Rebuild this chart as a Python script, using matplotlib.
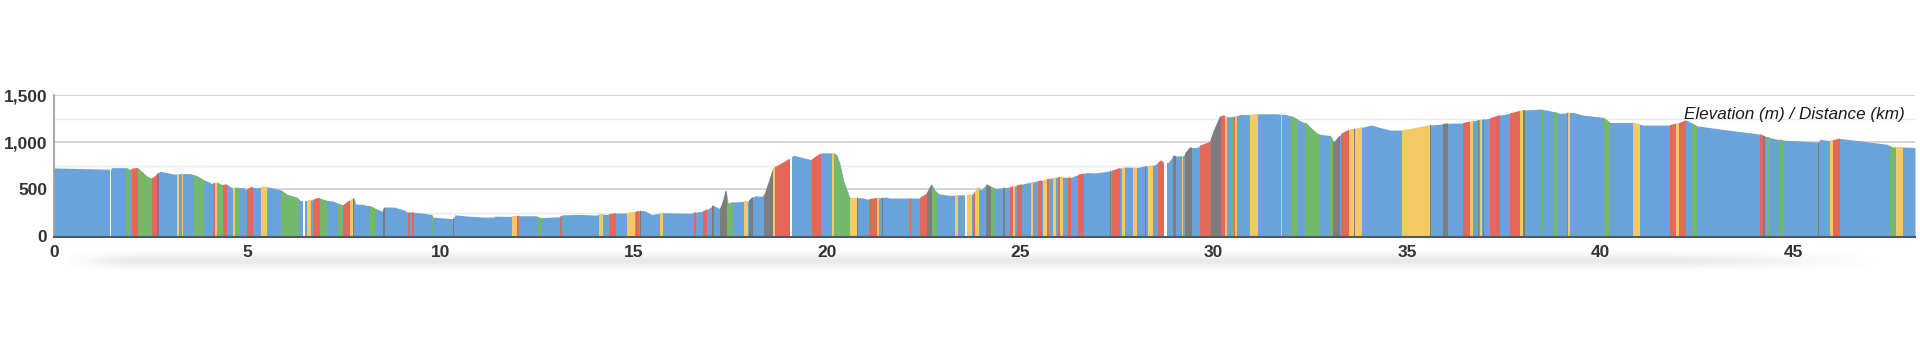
import numpy as np
import matplotlib
matplotlib.use("Agg")
import matplotlib.pyplot as plt
from matplotlib.ticker import MultipleLocator, FuncFormatter

# ---------------- data ----------------
dist_km = [0.0, 1.46, 1.5, 1.84, 1.95, 2.05, 2.16, 2.3, 2.4, 2.52, 2.62, 2.74, 2.9, 3.05, 3.17, 3.3,
           3.55, 3.7, 3.86, 3.95, 4.1, 4.2, 4.35, 4.47, 4.6, 4.9, 4.98, 5.1, 5.25, 5.42, 5.6, 5.85,
           6.05, 6.3, 6.36, 6.55, 6.7, 6.84, 7.0, 7.23, 7.35, 7.48, 7.6, 7.76, 7.8, 7.98, 8.17,
           8.3, 8.48, 8.56, 8.8, 9.04, 9.17, 9.2, 9.5, 9.77, 9.8, 10.33, 10.37, 10.7, 11.1, 11.37,
           11.41, 11.8, 12.0, 12.48, 12.55, 13.09, 13.16, 13.6, 14.03, 14.1, 14.3, 14.55, 14.8,
           15.07, 15.2, 15.3, 15.46, 15.76, 16.45, 16.62, 16.8, 16.93, 17.05, 17.23, 17.3, 17.38,
           17.44, 17.56, 17.83, 17.96, 18.05, 18.14, 18.3, 18.39, 18.61, 18.7, 19.04, 19.12, 19.3,
           19.47, 19.6, 19.7, 19.86, 20.16, 20.25, 20.33, 20.42, 20.59, 20.76, 20.9, 21.06, 21.28,
           21.54, 21.6, 22.4, 22.57, 22.7, 22.79, 22.88, 23.17, 23.78, 23.91, 23.96, 24.0, 24.13,
           24.25, 24.38, 24.73, 24.9, 25.16, 25.4, 25.59, 25.8, 26.02, 26.3, 26.45, 26.71, 26.95,
           27.23, 27.4, 27.58, 27.75, 28.0, 28.18, 28.45, 28.65, 28.69, 28.82, 28.95, 29.21, 29.38,
           29.55, 29.68, 29.9, 29.99, 30.16, 30.25, 30.33, 30.55, 30.68, 30.95, 31.19, 31.63, 31.88,
           32.05, 32.23, 32.4, 32.53, 32.7, 33.0, 33.05, 33.11, 33.18, 33.31, 33.52, 33.78, 34.08,
           34.3, 34.56, 34.9, 35.16, 35.59, 35.85, 36.11, 36.45, 36.8, 37.14, 37.4, 37.66, 38.01,
           38.44, 38.7, 38.95, 39.3, 39.55, 40.08, 40.25, 40.85, 41.11, 41.8, 42.06, 42.23, 42.49,
           43.0, 43.44, 44.13, 44.3, 44.56, 44.73, 45.51, 45.64, 45.68, 45.94, 46.2, 46.55, 46.89,
           47.41, 47.58, 47.75, 48.14]
elev_m = [727, 713, 730, 730, 713, 720, 727, 680, 638, 613, 640, 691, 680, 665, 660, 667,
          665, 640, 603, 589, 560, 575, 545, 553, 518, 518, 496, 525, 515, 530, 520, 496,
          440, 411, 383, 380, 390, 411, 385, 376, 350, 330, 370, 408, 345, 340, 325,
          300, 270, 312, 312, 284, 250, 259, 250, 234, 206, 188, 230, 216, 206, 206,
          216, 213, 220, 220, 199, 209, 230, 234, 227, 238, 234, 248, 248,
          266, 277, 270, 234, 252, 246, 259, 270, 294, 330, 294, 365, 496,
          348, 365, 372, 375, 411, 433, 425, 454, 730, 745, 826, 862, 844,
          826, 816, 844, 887, 887, 862, 773, 596, 408, 411, 411, 394, 408,
          418, 408, 408, 454, 553, 489, 454, 436, 447, 525, 496, 503, 553,
          525, 507, 525, 540, 567, 585, 596, 621, 631, 625, 649, 677, 674,
          691, 702, 727, 737, 730, 745, 755, 808, 784, 784, 855, 855, 943,
          943, 968, 1003, 1110, 1270, 1284, 1270, 1270, 1294, 1291, 1301, 1301, 1291,
          1270, 1227, 1199, 1145, 1085, 1071, 1050, 993, 1032, 1092, 1135, 1152, 1181,
          1156, 1128, 1128, 1145, 1181, 1190, 1202, 1202, 1234, 1252, 1287, 1305, 1340,
          1351, 1333, 1305, 1316, 1287, 1262, 1209, 1209, 1181, 1181, 1205, 1234, 1174,
          1145, 1121, 1085, 1057, 1032, 1022, 1004, 997, 1032, 1014, 1039, 1022, 1004,
          979, 943, 950, 943]

# gradient bands: start km, end km, class
band_start = [1.46, 1.86, 2.03, 2.18, 2.53, 2.67, 3.17, 3.30, 3.62, 4.12, 4.16, 4.21, 4.38, 4.62, 4.68,
              4.98, 5.35, 5.86, 6.45, 6.55, 6.71, 6.88, 7.35, 7.47, 7.66, 7.73,
              8.17, 8.50, 9.17, 9.25, 9.77, 10.33, 11.37, 11.84, 11.98, 12.53, 13.10, 14.10, 14.36,
              14.81, 15.05, 15.16, 15.67,
              16.55, 16.80, 17.02, 17.24, 17.42, 17.85, 17.98, 18.36, 18.61, 18.66, 19.04, 19.62,
              20.12, 20.18, 20.59, 20.76, 21.09, 21.28, 21.41, 22.14, 22.40, 22.57, 22.70, 23.31,
              23.56, 23.61, 23.76, 23.82, 24.11, 24.25, 24.56,
              24.73, 24.81, 24.92, 25.27, 25.46, 25.59, 25.69, 25.83, 25.98, 26.02, 26.24, 26.50,
              27.31, 27.36, 27.62, 27.92, 28.22, 28.30, 28.57, 28.71, 28.95, 29.17, 29.25, 29.64,
              29.94, 30.20, 30.29, 30.46, 30.52, 30.56, 30.95, 31.74, 32.00, 32.36,
              33.00, 33.09, 33.28, 33.50, 33.63, 33.65, 34.86, 35.59, 35.94, 36.45, 36.63, 36.84,
              36.90, 36.97, 37.14, 37.66, 37.92, 38.01, 38.48, 38.79, 39.13, 39.16, 40.10, 40.85,
              41.80, 41.96, 42.03, 42.36, 44.13, 44.22, 44.30, 44.65, 45.64, 45.93, 46.03, 47.50,
              47.66]
band_end = [1.48, 1.95, 2.16, 2.53, 2.67, 2.72, 3.24, 3.34, 3.88, 4.16, 4.21, 4.38, 4.47, 4.68, 4.79,
            5.16, 5.50, 6.36, 6.49, 6.66, 6.88, 7.05, 7.47, 7.66, 7.73, 7.77,
            8.30, 8.55, 9.21, 9.31, 9.81, 10.36, 11.39, 11.98, 12.03, 12.61, 13.14, 14.20, 14.55,
            15.03, 15.12, 15.19, 15.76,
            16.61, 16.88, 17.07, 17.40, 17.56, 17.96, 18.07, 18.61, 18.66, 19.04, 19.08, 19.83,
            20.18, 20.59, 20.76, 20.81, 21.28, 21.35, 21.45, 22.18, 22.57, 22.70, 22.83, 23.39,
            23.61, 23.74, 23.82, 23.93, 24.25, 24.34, 24.60,
            24.80, 24.86, 25.03, 25.33, 25.55, 25.68, 25.74, 25.92, 26.02, 26.09, 26.32, 26.64,
            27.34, 27.58, 27.70, 28.01, 28.26, 28.43, 28.71, 28.80, 29.02, 29.21, 29.43, 29.94,
            30.20, 30.29, 30.35, 30.51, 30.56, 30.61, 31.15, 31.77, 32.19, 32.75,
            33.09, 33.26, 33.50, 33.63, 33.65, 33.83, 35.59, 35.63, 36.07, 36.63, 36.71, 36.87,
            36.94, 37.00, 37.40, 37.92, 38.01, 38.05, 38.52, 38.91, 39.16, 39.21, 40.24, 41.02,
            41.96, 42.03, 42.22, 42.49, 44.22, 44.27, 44.40, 44.73, 45.66, 46.03, 46.20, 47.66,
            47.83]
band_class = ['w', 'g', 'r', 'g', 'r', 'k', 'y', 'y', 'g', 'r', 'y', 'g', 'r', 'y', 'g',
              'r', 'y', 'g', 'w', 'y', 'r', 'g', 'g', 'r', 'y', 'k',
              'g', 'k', 'r', 'r', 'g', 'k', 'k', 'y', 'r', 'g', 'r', 'y', 'r',
              'y', 'r', 'k', 'y',
              'r', 'r', 'k', 'k', 'g', 'y', 'k', 'k', 'y', 'r', 'w', 'r',
              'y', 'g', 'y', 'k', 'r', 'y', 'k', 'r', 'r', 'k', 'g', 'y',
              'w', 'y', 'r', 'y', 'k', 'g', 'k',
              'r', 'y', 'r', 'y', 'r', 'y', 'r', 'y', 'r', 'y', 'r', 'r',
              'k', 'r', 'y', 'y', 'k', 'y', 'r', 'w', 'k', 'y', 'k', 'r',
              'k', 'r', 'y', 'g', 'r', 'y', 'y', 'y', 'g', 'g',
              'g', 'k', 'r', 'y', 'k', 'y', 'y', 'k', 'k', 'r', 'y', 'k',
              'y', 'k', 'r', 'r', 'y', 'k', 'g', 'g', 'r', 'y', 'g', 'y',
              'r', 'y', 'r', 'g', 'r', 'k', 'g', 'g', 'k', 'y', 'r', 'g',
              'y']

y_ticks = [0, 500, 1000, 1500]
x_ticks = [0, 5, 10, 15, 20, 25, 30, 35, 40, 45]
title_text = "Elevation (m) / Distance (km)"

# ---------------- style ----------------
BLUE = "#6aa3da"
COLORS = {'g': "#74b86b", 'y': "#f5c963", 'r': "#e2695a", 'k': "#7d7d7d", 'w': "#ffffff"}
FONT = ["Liberation Sans", "DejaVu Sans"]

W, H = 1920, 357
fig = plt.figure(figsize=(W / 100, H / 100), dpi=100)
fig.patch.set_facecolor("white")

# soft shadow under the x axis
sh = fig.add_axes([60 / W, 1 - 274 / H, 1830 / W, 24 / H], zorder=0)
yy = np.linspace(0, 1, 24)[:, None]
xx = np.linspace(0, 1, 400)[None, :]
a_v = np.exp(-((yy - 0.45) / 0.28) ** 2)
a_h = np.clip(np.minimum(xx / 0.04, (1 - xx) / 0.12), 0, 1)
alpha = 0.13 * a_v * a_h
rgba = np.zeros((24, 400, 4))
rgba[..., :3] = 0.35
rgba[..., 3] = alpha
sh.imshow(rgba, aspect="auto", extent=[0, 1, 0, 1], interpolation="bilinear")
sh.axis("off")

ax = fig.add_axes([54 / W, 1 - 236.5 / H, (1915 - 54) / W, (236.5 - 95) / H], zorder=1)
ax.set_facecolor("none")

poly = ax.fill_between(dist_km, elev_m, 0, color=BLUE, lw=0, zorder=2)
clip = poly.get_paths()[0]
for s, e, c in zip(band_start, band_end, band_class):
    span = ax.axvspan(s, e, color=COLORS[c], lw=0, zorder=3)
    span.set_clip_path(clip, ax.transData)

ax.set_xlim(0, 48.14)
ax.set_ylim(0, 1500)

ax.yaxis.set_major_locator(MultipleLocator(500))
ax.yaxis.set_minor_locator(MultipleLocator(250))
ax.set_xticks(x_ticks)
ax.set_yticks(y_ticks)
ax.yaxis.set_major_formatter(FuncFormatter(lambda v, p: f"{int(v):,}"))
ax.grid(axis="y", which="major", color="#d2d2d2", lw=1.3, zorder=0)
ax.grid(axis="y", which="minor", color="#ebebeb", lw=1.0, zorder=0)
ax.set_axisbelow(True)

for sp in ["top", "right"]:
    ax.spines[sp].set_visible(False)
ax.spines["left"].set_color("#9a9a9a")
ax.spines["left"].set_linewidth(1.2)
ax.spines["bottom"].set_color("#4f5a66")
ax.spines["bottom"].set_linewidth(1.5)
ax.spines["bottom"].set_zorder(5)

ax.tick_params(axis="both", which="both", length=0)
ax.tick_params(axis="y", pad=5)
ax.tick_params(axis="x", pad=6)
for lab in ax.get_xticklabels() + ax.get_yticklabels():
    lab.set_fontfamily(FONT)
    lab.set_fontweight("bold")
    lab.set_fontsize(12.5)
    lab.set_color("#333333")

fig.text(1905 / W, 1 - 114 / H, title_text, ha="right", va="center",
         fontsize=12.3, fontstyle="italic", family=FONT, color="#1a1a1a", zorder=10)

fig.savefig("out.png", dpi=100, facecolor="white")
